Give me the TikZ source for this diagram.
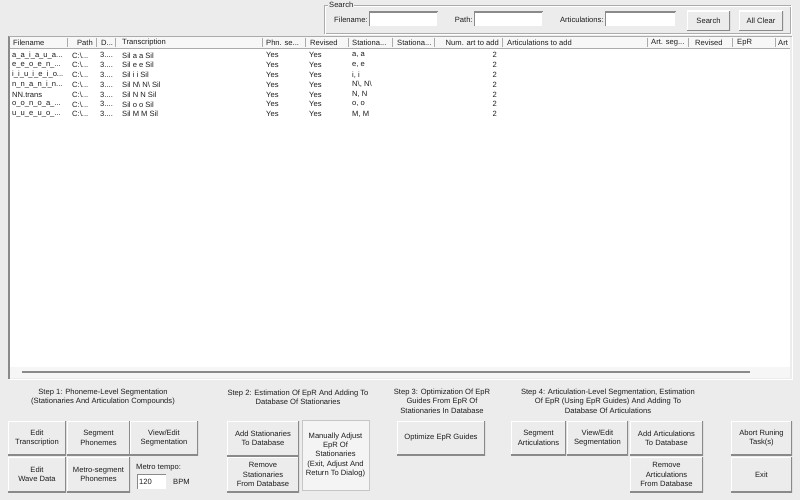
\documentclass[tikz,border=0pt]{standalone}
\usepackage{fontspec}
\setmainfont{Liberation Sans}
\usetikzlibrary{positioning}

\definecolor{winbg}{HTML}{ECECEC}
\definecolor{btnshadow}{HTML}{8A8A8A}
\definecolor{gridline}{HTML}{ABABAB}
\definecolor{txt}{HTML}{1E1E1E}

\newcommand{\trail}{...}

\tikzset{
  wintext/.style={font=\fontsize{7.6}{9.4}\selectfont, text=txt, inner sep=0pt},
  winbtn/.style={wintext, fill=winbg, align=center,
    path picture={
      \draw[white, line width=2.4pt] (path picture bounding box.south west) -- (path picture bounding box.north west) -- (path picture bounding box.north east);
      \draw[btnshadow, line width=2.4pt] (path picture bounding box.south west) -- (path picture bounding box.south east) -- (path picture bounding box.north east);
    }},
  flatbtn/.style={wintext, fill=winbg!60!white, draw=gray!45, align=center},
  winedit/.style={wintext, fill=white, anchor=center,
    path picture={
      \draw[btnshadow, line width=2pt] (path picture bounding box.south west) -- (path picture bounding box.north west) -- (path picture bounding box.north east);
      \draw[winbg, line width=2pt] (path picture bounding box.south west) -- (path picture bounding box.south east) -- (path picture bounding box.north east);
    }},
  steptxt/.style={wintext, align=center},
  cell/.style={wintext, anchor=west},
}

\begin{document}
\begin{tikzpicture}[x=1pt,y=-1pt]
    \useasboundingbox[fill=winbg] (0,0) rectangle (800,500);

    % search group
    \draw[gridline] (324,5) rectangle (790,33);
    \draw[white] (325,6) rectangle (791,34);
    \node[wintext, fill=winbg, inner sep=1pt, anchor=west] (gSearch) at (328,5) {Search};
    \node[winedit, minimum width=69, minimum height=15] (bFile) at (403.5,19.5) {};
    \node[wintext, left=1pt of bFile] (lFile) {Filename:};
    \node[winedit, minimum width=69, minimum height=15] (bPath) at (508.5,19.5) {};
    \node[wintext, left=1pt of bPath] (lPath) {Path:};
    \node[winedit, minimum width=71, minimum height=15] (bArt) at (640.5,19.5) {};
    \node[wintext, left=1pt of bArt] (lArt) {Articulations:};
    \node[winbtn, minimum width=43, minimum height=20] (bSearch) at (708.5,21) {Search};
    \node[winbtn, minimum width=44, minimum height=20] (bClear) at (761,21) {All Clear};

    % list view
    \fill[white] (10,37) rectangle (790,367);
    \fill[winbg!50!white] (10,367) rectangle (790,378);
    \draw[btnshadow, line width=1.5pt] (22,372) -- (750,372);
    \draw[btnshadow, line width=1.2pt] (9,36) -- (9,379) ;
    \draw[gridline] (9,36) -- (792,36);
    \draw[white] (792,36) -- (792,379) -- (9,379);
    \fill[gray!6] (10,37) rectangle (790,48);
    \draw[gridline] (10,48.5) -- (790,48.5);
    \foreach \x in {67,96,115,262,305,348,392,434,502,647,688,732,775}
        \draw[gridline] (\x,38) -- (\x,47.5);

    % header
    \foreach \x/\t [count=\i] in {13/Filename, 101/D\trail, 122/Transcription, 266/Phn. se\trail, 310/Revised,
        352/Stationa\trail, 397/Stationa\trail, 507/Articulations to add, 651/Art. seg\trail, 695/Revised, 737/EpR, 778/Art}
        \node[cell] (h\i) at (\x,43) {\t};
    \node[cell, anchor=east] (hPath) at (93,43) {Path};
    \node[cell, anchor=east] (hNum) at (499,43) {Num. art to add};

    % rows
    \foreach \fn/\tr/\st [count=\r] in {
        a\_a\_i\_a\_u\_a\trail/Sil a a Sil/{a, a},
        e\_e\_o\_e\_n\_\trail/Sil e e Sil/{e, e},
        i\_i\_u\_i\_e\_i\_o\trail/Sil i i Sil/{i, i},
        n\_n\_a\_n\_i\_n\trail/Sil N\textbackslash{} N\textbackslash{} Sil/{N\textbackslash, N\textbackslash},
        NN.trans/Sil N N Sil/{N, N},
        o\_o\_n\_o\_a\_\trail/Sil o o Sil/{o, o},
        u\_u\_e\_u\_o\_\trail/Sil M M Sil/{M, M}} {
        \pgfmathsetmacro\y{45.5+9.8*\r}
        \node[cell] (fn\r) at (12,\y) {\fn};
        \node[cell] (pa\r) at (72,\y) {C:\textbackslash\trail};
        \node[cell] (du\r) at (100,\y) {3.\trail};
        \node[cell] (tr\r) at (122,\y) {\tr};
        \node[cell] (ph\r) at (266,\y) {Yes};
        \node[cell] (rv\r) at (309,\y) {Yes};
        \node[cell] (st\r) at (352,\y) {\st};
        \node[cell, anchor=east] (nm\r) at (497,\y) {2};
    }

    % step labels
    \node[steptxt] (step1) at (103,397) {Step 1: Phoneme-Level Segmentation\\(Stationaries And Articulation Compounds)};
    \node[steptxt] (step2) at (298,397) {Step 2: Estimation Of EpR And Adding To\\Database Of Stationaries};
    \node[steptxt] (step3) at (442,401) {Step 3: Optimization Of EpR\\Guides From EpR Of\\Stationaries In Database};
    \node[steptxt] (step4) at (608,401) {Step 4: Articulation-Level Segmentation, Estimation\\Of EpR (Using EpR Guides) And Adding To\\Database Of Articulations};

    % step 1 buttons
    \node[winbtn, minimum width=58, minimum height=34] (editTr) at (37,438) {Edit\\Transcription};
    \node[winbtn, minimum width=63, minimum height=34] (segPh) at (98.5,438) {Segment\\Phonemes};
    \node[winbtn, minimum width=68, minimum height=34] (viewSeg) at (164,438) {View/Edit\\Segmentation};
    \node[winbtn, minimum width=58, minimum height=35] (editWave) at (37,474.5) {Edit\\Wave Data};
    \node[winbtn, minimum width=63, minimum height=35] (metroSeg) at (98.5,474.5) {Metro-segment\\Phonemes};
    \node[cell] (lTempo) at (136,468) {Metro tempo:};
    \node[winedit, minimum width=30, minimum height=16] (bTempo) at (152,482) {};
    \node[cell] (vTempo) at (139,482) {120};
    \node[cell] (lBpm) at (173,482) {BPM};

    % step 2 buttons
    \node[winbtn, minimum width=72, minimum height=35] (addStat) at (263,438.5) {Add Stationaries\\To Database};
    \node[winbtn, minimum width=72, minimum height=35] (remStat) at (263,474.5) {Remove\\Stationaries\\From Database};
    \node[flatbtn, minimum width=67, minimum height=70] (manAdj) at (335.5,455) {Manually Adjust\\EpR Of\\Stationaries\\(Exit, Adjust And\\Return To Dialog)};

    % step 3 button
    \node[winbtn, minimum width=88, minimum height=34] (optEpR) at (441,438) {Optimize EpR Guides};

    % step 4 buttons
    \node[winbtn, minimum width=55, minimum height=34] (segArt) at (538.5,438) {Segment\\Articulations};
    \node[winbtn, minimum width=61, minimum height=34] (viewSegArt) at (597.5,438) {View/Edit\\Segmentation};
    \node[winbtn, minimum width=73, minimum height=34] (addArt) at (666.5,438) {Add Articulations\\To Database};
    \node[winbtn, minimum width=73, minimum height=35] (remArt) at (666.5,474.5) {Remove\\Articulations\\From Database};

    % right column
    \node[winbtn, minimum width=61, minimum height=34] (abort) at (761.5,438) {Abort Runing\\Task(s)};
    \node[winbtn, minimum width=61, minimum height=35] (exitBtn) at (761.5,474.5) {Exit};
\end{tikzpicture}
\end{document}
